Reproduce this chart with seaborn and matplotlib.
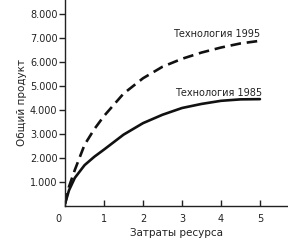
import numpy as np
import pandas as pd
import matplotlib
matplotlib.use("Agg")
import matplotlib.pyplot as plt
import matplotlib.transforms as mtransforms
import seaborn as sns

# Data
resource = [0, 0.1, 0.25, 0.5, 0.75, 1, 1.5, 2, 2.5, 3, 3.5, 4, 4.5, 5]
output_1985 = [100, 650, 1170, 1700, 2050, 2350, 2970, 3450, 3800, 4080, 4250, 4380, 4440, 4450]
output_1995 = [100, 800, 1500, 2550, 3200, 3750, 4680, 5320, 5800, 6130, 6390, 6600, 6770, 6880]
series_names = ["Технология 1985", "Технология 1995"]
x_ticks = [0, 1, 2, 3, 4, 5]
y_ticks = [1000, 2000, 3000, 4000, 5000, 6000, 7000, 8000]
y_tick_labels = ["1.000", "2.000", "3.000", "4.000", "5.000", "6.000", "7.000", "8.000"]

df = pd.DataFrame({
    "x": resource * 2,
    "y": output_1985 + output_1995,
    "tech": [series_names[0]] * len(resource) + [series_names[1]] * len(resource),
})

sns.set_style("ticks")
plt.rcParams["font.family"] = ["DejaVu Sans"]

fig = plt.figure(figsize=(2.88, 2.42), dpi=100)
ax = fig.add_axes([0.226, 0.149, 0.774, 0.851])

sns.lineplot(data=df, x="x", y="y", style="tech", hue="tech",
             palette={series_names[0]: "#111111", series_names[1]: "#111111"},
             dashes={series_names[0]: "", series_names[1]: (4, 2.2)},
             linewidth=1.9, legend=False, ax=ax)
for line in ax.get_lines():
    line.set_solid_joinstyle("round")
    line.set_dash_joinstyle("round")

ax.set_xlim(0, 5.72)
ax.set_ylim(0, 8580)
ax.set_xticks(x_ticks)
ax.set_xticklabels([str(t) for t in x_ticks])
ax.set_yticks(y_ticks)
ax.set_yticklabels(y_tick_labels)
for s in ["top", "right"]:
    ax.spines[s].set_visible(False)
for s in ["left", "bottom"]:
    ax.spines[s].set_linewidth(1.0)
    ax.spines[s].set_color("#222222")

ax.tick_params(axis="x", direction="in", length=4.5, width=1.0, colors="#222222",
               labelsize=7, pad=6)
ax.tick_params(axis="y", direction="out", length=4.5, width=1.0, colors="#222222",
               labelsize=7, pad=1)

# shift the "0" x-tick label left like the reference
offset = mtransforms.ScaledTranslation(-5 / 72, 0, fig.dpi_scale_trans)
lbl0 = ax.get_xticklabels()[0]
lbl0.set_transform(lbl0.get_transform() + offset)

ax.set_xlabel("Затраты ресурса", fontsize=7.5, color="#222222", labelpad=3)
ax.set_ylabel("Общий продукт", fontsize=7.5, color="#222222", labelpad=2)

ax.text(5.0, output_1995[-1] + 140, series_names[1], ha="right", va="baseline",
        fontsize=7, color="#222222")
ax.text(5.05, output_1985[-1] + 130, series_names[0], ha="right", va="baseline",
        fontsize=7, color="#222222")

fig.savefig("out.png", dpi=100)
